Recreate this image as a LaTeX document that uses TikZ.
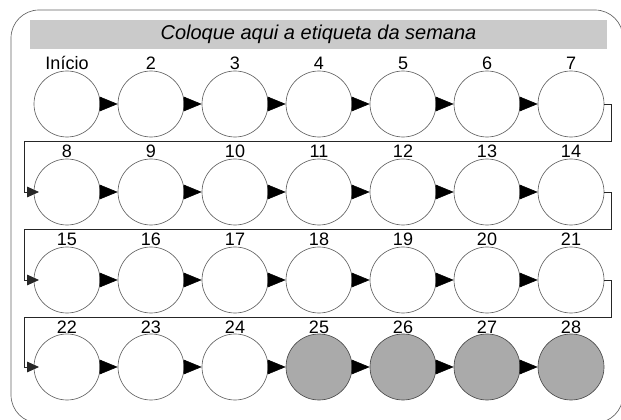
\documentclass[tikz,border=0pt]{standalone}
\usepackage{fontspec}
\setmainfont{Liberation Sans}
\usetikzlibrary{arrows.meta}

\definecolor{bargray}{RGB}{202,202,202}
\definecolor{dotgray}{RGB}{170,170,170}
\definecolor{rimgray}{RGB}{100,100,100}

\tikzset{
  week/.style={circle,draw=rimgray,line width=0.5pt,minimum size=49.5pt,inner sep=0pt},
  done/.style={week,fill=dotgray,draw=black!70},
  daylabel/.style={anchor=base,inner sep=0.75pt,font=\fontsize{13.5}{15}\selectfont},
  fwd/.style={-{Triangle[length=13.5pt,width=11pt]},line width=0.4pt},
  wrap/.style={-{Triangle[length=9pt,width=8pt]},draw=black!85,line width=0.6pt,shorten >=-4pt}
}

\begin{document}
\begin{tikzpicture}[x=0.75pt,y=0.75pt,yscale=-1,xscale=1]
\useasboundingbox (0,0) rectangle (621,420);

%Shape: Rounded Rect
\draw [draw=rimgray,line width=0.5pt,rounded corners=21pt] (11,10) rectangle (623,423) ;
% Text Node
\node [fill=bargray,minimum width=432.75pt,minimum height=21.75pt,inner sep=0pt,font=\fontsize{15}{18}\selectfont\itshape] (head) at (318.5,34.5) {Coloque aqui a etiqueta da semana};

%Shape: Circle (row 1)
\node [week] (c1) at (67,104) {};
\node [week] (c2) at (151,104) {};
\node [week] (c3) at (235,104) {};
\node [week] (c4) at (319,104) {};
\node [week] (c5) at (403,104) {};
\node [week] (c6) at (487,104) {};
\node [week] (c7) at (571,104) {};
%Shape: Circle (row 2)
\node [week] (c8) at (67,192) {};
\node [week] (c9) at (151,192) {};
\node [week] (c10) at (235,192) {};
\node [week] (c11) at (319,192) {};
\node [week] (c12) at (403,192) {};
\node [week] (c13) at (487,192) {};
\node [week] (c14) at (571,192) {};
%Shape: Circle (row 3)
\node [week] (c15) at (67,280) {};
\node [week] (c16) at (151,280) {};
\node [week] (c17) at (235,280) {};
\node [week] (c18) at (319,280) {};
\node [week] (c19) at (403,280) {};
\node [week] (c20) at (487,280) {};
\node [week] (c21) at (571,280) {};
%Shape: Circle (row 4)
\node [week] (c22) at (67,367) {};
\node [week] (c23) at (151,367) {};
\node [week] (c24) at (235,367) {};
\node [done] (c25) at (319,367) {};
\node [done] (c26) at (403,367) {};
\node [done] (c27) at (487,367) {};
\node [done] (c28) at (571,367) {};

% Text Node
\node [daylabel] (t1) at (67,70) {Início};
\node [daylabel] (t2) at (151,70) {2};
\node [daylabel] (t3) at (235,70) {3};
\node [daylabel] (t4) at (319,70) {4};
\node [daylabel] (t5) at (403,70) {5};
\node [daylabel] (t6) at (487,70) {6};
\node [daylabel] (t7) at (571,70) {7};
% Text Node
\node [daylabel] (t8) at (67,158) {8};
\node [daylabel] (t9) at (151,158) {9};
\node [daylabel] (t10) at (235,158) {10};
\node [daylabel] (t11) at (319,158) {11};
\node [daylabel] (t12) at (403,158) {12};
\node [daylabel] (t13) at (487,158) {13};
\node [daylabel] (t14) at (571,158) {14};
% Text Node
\node [daylabel] (t15) at (67,246) {15};
\node [daylabel] (t16) at (151,246) {16};
\node [daylabel] (t17) at (235,246) {17};
\node [daylabel] (t18) at (319,246) {18};
\node [daylabel] (t19) at (403,246) {19};
\node [daylabel] (t20) at (487,246) {20};
\node [daylabel] (t21) at (571,246) {21};
% Text Node
\node [daylabel] (t22) at (67,333) {22};
\node [daylabel] (t23) at (151,333) {23};
\node [daylabel] (t24) at (235,333) {24};
\node [daylabel] (t25) at (319,333) {25};
\node [daylabel] (t26) at (403,333) {26};
\node [daylabel] (t27) at (487,333) {27};
\node [daylabel] (t28) at (571,333) {28};

%Straight Lines
\draw [fwd] (c1) -- (c2) ;
\draw [fwd] (c2) -- (c3) ;
\draw [fwd] (c3) -- (c4) ;
\draw [fwd] (c4) -- (c5) ;
\draw [fwd] (c5) -- (c6) ;
\draw [fwd] (c6) -- (c7) ;
\draw [fwd] (c8) -- (c9) ;
\draw [fwd] (c9) -- (c10) ;
\draw [fwd] (c10) -- (c11) ;
\draw [fwd] (c11) -- (c12) ;
\draw [fwd] (c12) -- (c13) ;
\draw [fwd] (c13) -- (c14) ;
\draw [fwd] (c15) -- (c16) ;
\draw [fwd] (c16) -- (c17) ;
\draw [fwd] (c17) -- (c18) ;
\draw [fwd] (c18) -- (c19) ;
\draw [fwd] (c19) -- (c20) ;
\draw [fwd] (c20) -- (c21) ;
\draw [fwd] (c22) -- (c23) ;
\draw [fwd] (c23) -- (c24) ;
\draw [fwd] (c24) -- (c25) ;
\draw [fwd] (c25) -- (c26) ;
\draw [fwd] (c26) -- (c27) ;
\draw [fwd] (c27) -- (c28) ;

%Shape: Boxed Line (row ends)
\coordinate (e1) at (611,141) ;
\coordinate (w1) at (24,141) ;
\coordinate (e2) at (611,229) ;
\coordinate (w2) at (24,229) ;
\coordinate (e3) at (611,317) ;
\coordinate (w3) at (24,317) ;
\draw [wrap] (c7.east) -| (e1) -- (w1) |- (c8.west) ;
\draw [wrap] (c14.east) -| (e2) -- (w2) |- (c15.west) ;
\draw [wrap] (c21.east) -| (e3) -- (w3) |- (c22.west) ;

\end{tikzpicture}
\end{document}
